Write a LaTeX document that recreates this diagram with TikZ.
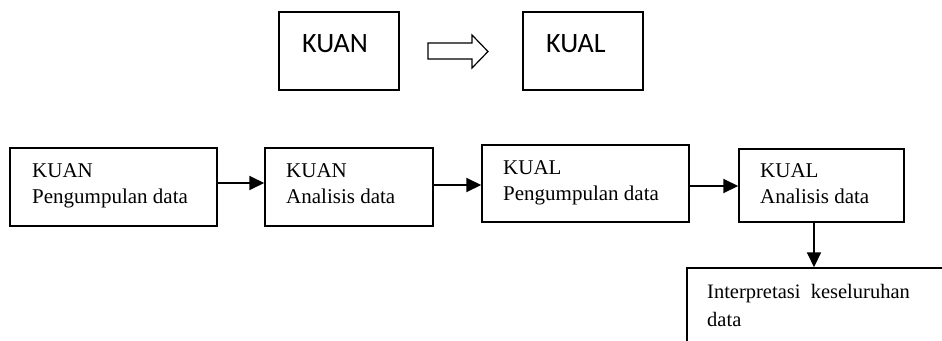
\documentclass[tikz,border=0pt]{standalone}
\usepackage{fontspec}
\setmainfont{Liberation Serif}
\newfontfamily\calibri{Carlito}
\usetikzlibrary{arrows.meta}
\tikzset{
  box/.style={draw, line width=1.5pt, rectangle, inner sep=0pt},
  lbl/.style={anchor=base west, inner sep=0pt, font=\fontsize{21}{26}\selectfont, align=left},
  toplbl/.style={anchor=base west, inner sep=0pt, font=\calibri\fontsize{28}{32}\selectfont},
  arr/.style={line width=2pt, -{Triangle[length=15pt,width=14pt]}},
  hollow/.style={draw, line width=1.2pt, fill=white}
}
\begin{document}
\begin{tikzpicture}[x=1pt,y=-1pt]
\useasboundingbox (0,0) rectangle (942,340);
\clip (0,0) rectangle (942,340);
% top
\node[box, minimum width=120pt, minimum height=78pt] (tk) at (339,51) {};
\node[box, minimum width=120pt, minimum height=78pt] (tl) at (583,51) {};
\node[toplbl] (tkt) at (302,52) {KUAN};
\node[toplbl] (tlt) at (546,52) {KUAL};
\draw[hollow] (428,43) -- (472,43) -- (472,35) -- (488,51.5) -- (472,68) -- (472,59) -- (428,59) -- cycle;
% bottom boxes
\node[box, minimum width=207pt, minimum height=78pt] (b1) at (113.5,187) {};
\node[box, minimum width=168pt, minimum height=78pt] (b2) at (349,187) {};
\node[box, minimum width=207pt, minimum height=77pt] (b3) at (585.5,183.5) {};
\node[box, minimum width=165pt, minimum height=73pt] (b4) at (821.5,185.5) {};
\node[box, minimum width=280pt, minimum height=100pt] (b5) at (827,318) {};
\node[lbl] (t1) at (32,203) {KUAN\\Pengumpulan data};
\node[lbl] (t2) at (286,203) {KUAN\\Analisis data};
\node[lbl] (t3) at (503,200) {KUAL\\Pengumpulan data};
\node[lbl] (t4) at (760,203) {KUAL\\Analisis data};
\node[lbl, font=\fontsize{20.5}{28}\selectfont] (t5) at (707,326) {Interpretasi\ \ keseluruhan\\data};
% connectors
\draw[arr] (b1.east |- 0,183) -- (b2.west |- 0,183);
\draw[arr] (b2.east |- 0,185) -- (b3.west |- 0,185);
\draw[arr] (b3.east |- 0,186) -- (b4.west |- 0,186);
\draw[arr] (b4.south -| 814,0) -- (b5.north -| 814,0);
\end{tikzpicture}
\end{document}
